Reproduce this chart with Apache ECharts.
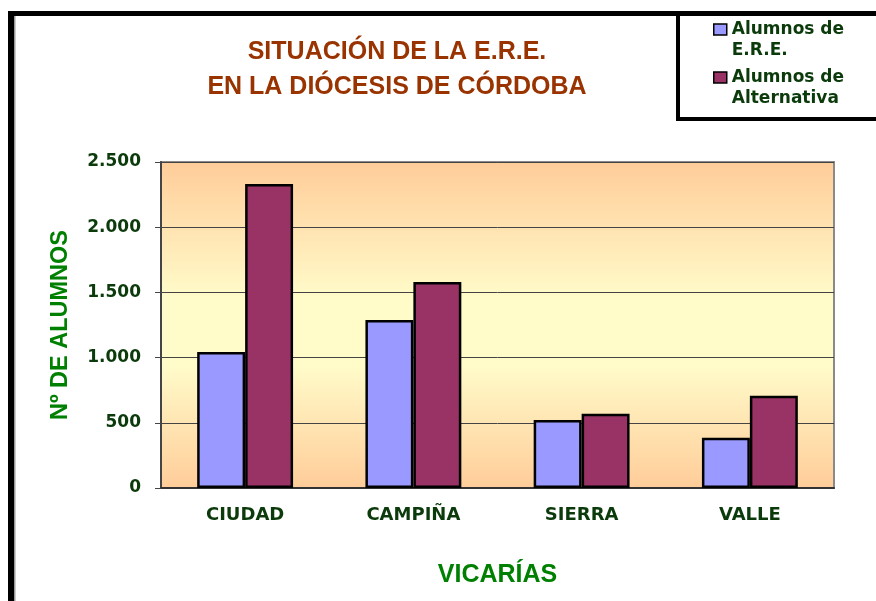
<!DOCTYPE html>
<html>
<head>
<meta charset="utf-8">
<script src="https://cdn.jsdelivr.net/npm/echarts@6/dist/echarts.min.js"></script>
<style>
  html, body { margin: 0; padding: 0; background: #fff; }
  #chart { width: 876px; height: 601px; }
</style>
</head>
<body>
<div id="chart"></div>
<script>
// datos
var vicarias = ['CIUDAD', 'CAMPIÑA', 'SIERRA', 'VALLE'];
var alumnosERE = [1043, 1288, 521, 386];
var alumnosAlternativa = [2331, 1580, 570, 708];
var serieNames = ['Alumnos de E.R.E.', 'Alumnos de Alternativa'];
// la linea vacia de arriba deja el icono a la altura de la primera linea
var legendLabels = ['\nAlumnos de\nE.R.E.', '\nAlumnos de\nAlternativa'];

var darkGreen = '#0B3A0B';
var smallFont = 'DejaVu Sans';

function puntoMiles(v) {
    var s = String(v);
    return s.replace(/\B(?=(\d{3})+(?!\d))/g, '.');
}

function legendFor(i, top) {
    return {
        data: [serieNames[i]],
        left: 713,
        top: top,
        padding: 0,
        icon: 'rect',
        itemWidth: 13,
        itemHeight: 11,
        itemStyle: { borderColor: '#000', borderWidth: 1.5 },
        formatter: function () { return legendLabels[i]; },
        textStyle: {
            color: darkGreen,
            fontFamily: smallFont,
            fontWeight: 'bold',
            fontSize: 17,
            lineHeight: 21
        }
    };
}

var myChart = echarts.init(document.getElementById('chart'));

var option = {
    animation: false,
    backgroundColor: '#fff',
    title: {
        text: 'SITUACIÓN DE LA E.R.E.\nEN LA DIÓCESIS DE CÓRDOBA',
        left: 397,
        top: 35,
        padding: 0,
        textAlign: 'center',
        textStyle: {
            color: '#993300',
            fontFamily: 'Liberation Sans',
            fontWeight: 'bold',
            fontSize: 25,
            lineHeight: 35
        }
    },
    legend: [legendFor(0, -2), legendFor(1, 46)],
    grid: {
        left: 161,
        top: 162,
        right: 42,
        bottom: 113,
        show: true,
        borderColor: '#8a8a8a',
        borderWidth: 2,
        backgroundColor: {
            type: 'linear', x: 0, y: 0, x2: 0, y2: 1,
            colorStops: [
                { offset: 0, color: '#FFCC99' },
                { offset: 0.42, color: '#FFFCCA' },
                { offset: 0.62, color: '#FFFCCA' },
                { offset: 1, color: '#FFCC99' }
            ]
        }
    },
    xAxis: {
        type: 'category',
        data: vicarias,
        name: 'VICARÍAS',
        nameLocation: 'middle',
        nameGap: 75,
        nameTextStyle: {
            color: '#008000',
            fontFamily: 'Liberation Sans',
            fontWeight: 'bold',
            fontSize: 25
        },
        axisLine: { lineStyle: { color: '#333', width: 2 } },
        axisTick: { length: 6, lineStyle: { color: '#333' } },
        axisLabel: {
            margin: 18,
            color: darkGreen,
            fontFamily: smallFont,
            fontWeight: 'bold',
            fontSize: 18
        }
    },
    yAxis: {
        type: 'value',
        min: 0,
        max: 2500,
        interval: 500,
        name: 'Nº DE ALUMNOS',
        nameLocation: 'middle',
        nameRotate: 90,
        nameGap: 88,
        nameTextStyle: {
            color: '#008000',
            fontFamily: 'Liberation Sans',
            fontWeight: 'bold',
            fontSize: 23.5
        },
        axisLine: { show: true, lineStyle: { color: '#444', width: 2 } },
        axisTick: { show: true, length: 6, lineStyle: { color: '#444' } },
        splitLine: { lineStyle: { color: '#444', width: 1 } },
        axisLabel: {
            margin: 20,
            color: darkGreen,
            fontFamily: smallFont,
            fontWeight: 'bold',
            fontSize: 17,
            formatter: puntoMiles
        }
    },
    series: [
        {
            name: serieNames[0],
            type: 'bar',
            data: alumnosERE,
            barGap: '0%',
            barCategoryGap: '43%',
            itemStyle: { color: '#9999FF', borderColor: '#000', borderWidth: 2.5 }
        },
        {
            name: serieNames[1],
            type: 'bar',
            data: alumnosAlternativa,
            itemStyle: { color: '#993366', borderColor: '#000', borderWidth: 2.5 }
        }
    ],
    // marco exterior y caja de la leyenda
    graphic: [
        { type: 'rect', shape: { x: 8, y: 11, width: 6, height: 590 }, style: { fill: '#000' } },
        { type: 'rect', shape: { x: 14, y: 16, width: 1.5, height: 585 }, style: { fill: '#999' } },
        { type: 'rect', shape: { x: 8, y: 11, width: 868, height: 5 }, style: { fill: '#000' } },
        { type: 'rect', shape: { x: 676, y: 11, width: 4, height: 110 }, style: { fill: '#000' } },
        { type: 'rect', shape: { x: 676, y: 117, width: 200, height: 4 }, style: { fill: '#000' } }
    ]
};

myChart.setOption(option);
</script>
</body>
</html>
